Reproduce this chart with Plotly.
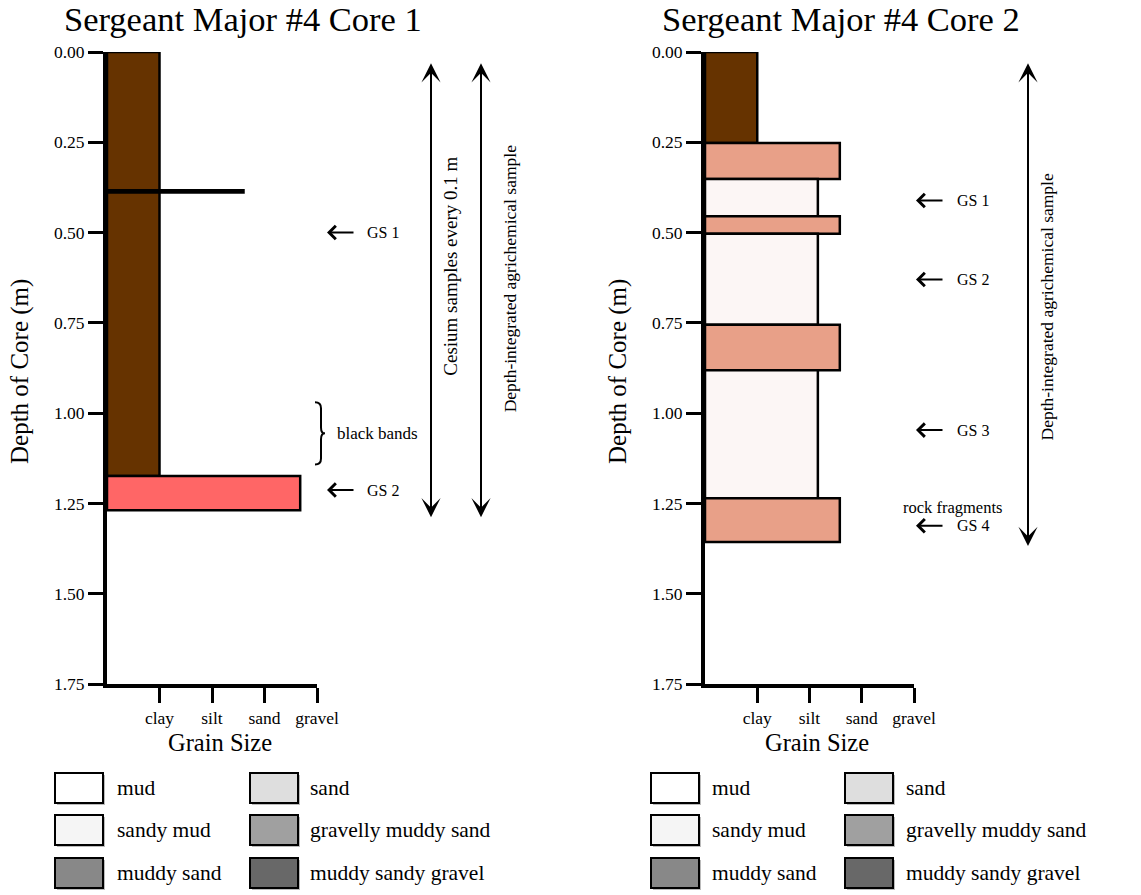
import plotly.graph_objects as go

W, H = 1141, 895

# ---------------- data ----------------
grain_ticks = [1, 2, 3, 4]
grain_labels = ["clay", "silt", "sand", "gravel"]
depth_ticks = [0.0, 0.25, 0.5, 0.75, 1.0, 1.25, 1.5, 1.75]

core1_top = [0.0, 0.383, 1.174]
core1_bottom = [1.174, 0.389, 1.269]
core1_grain = [1.0, 2.6, 3.68]
core1_colors = ["#663300", "#E8A088", "#FF6666"]

core2_top = [0.0, 0.252, 0.352, 0.455, 0.503, 0.755, 0.881, 1.236]
core2_bottom = [0.252, 0.352, 0.455, 0.503, 0.755, 0.881, 1.236, 1.357]
core2_grain = [1.0, 2.58, 2.16, 2.58, 2.16, 2.58, 2.16, 2.58]
core2_colors = ["#663300", "#E8A088", "#FCF6F5", "#E8A088",
                "#FCF6F5", "#E8A088", "#FCF6F5", "#E8A088"]

core1_gs_labels = ["GS 1", "GS 2"]
core1_gs_depths = [0.50, 1.213]
core2_gs_labels = ["GS 1", "GS 2", "GS 3", "GS 4"]
core2_gs_depths = [0.411, 0.630, 1.047, 1.312]

core1_cesium_range = [0.027, 1.288]
core1_agri_range = [0.027, 1.288]
core2_agri_range = [0.027, 1.368]
black_bands_range = [0.970, 1.142]
rock_fragments_depth = 1.262

legend_labels = ["mud", "sandy mud", "muddy sand",
                 "sand", "gravelly muddy sand", "muddy sandy gravel"]
legend_colors = ["#FFFFFF", "#F5F5F5", "#888888",
                 "#DEDEDE", "#A0A0A0", "#686868"]

titles = ["Sergeant Major #4 Core 1", "Sergeant Major #4 Core 2"]

FONT = "Liberation Serif, Times New Roman, serif"


def px(x):
    return x / W


def py(y):
    return 1 - y / H


fig = go.Figure()

cores = [
    (core1_top, core1_bottom, core1_grain, core1_colors, "x", "y"),
    (core2_top, core2_bottom, core2_grain, core2_colors, "x2", "y2"),
]
for top, bot, grain, cols, xa, ya in cores:
    centers = [(t + b) / 2 for t, b in zip(top, bot)]
    widths = [b - t for t, b in zip(top, bot)]
    fig.add_trace(go.Bar(
        orientation="h", y=centers, x=grain, width=widths, base=0,
        marker=dict(color=cols, line=dict(color="black", width=2.5)),
        xaxis=xa, yaxis=ya, showlegend=False, hoverinfo="skip",
    ))

y_dom = [py(684), py(52)]
axis_common = dict(
    showgrid=False, zeroline=False, showline=True, linecolor="black",
    linewidth=4, ticks="outside", tickwidth=3, ticklen=15, tickcolor="black",
    tickfont=dict(family=FONT, size=17.5, color="black"), fixedrange=True,
    automargin=False,
)
fig.update_layout(
    xaxis=dict(domain=[px(107), px(317)], range=[0, 4], anchor="y",
               tickvals=grain_ticks, ticktext=grain_labels, **axis_common),
    yaxis=dict(domain=y_dom, range=[1.75, 0], anchor="x",
               tickvals=depth_ticks, tickformat=".2f", **axis_common),
    xaxis2=dict(domain=[px(705), px(914)], range=[0, 4], anchor="y2",
                tickvals=grain_ticks, ticktext=grain_labels, **axis_common),
    yaxis2=dict(domain=y_dom, range=[1.75, 0], anchor="x2",
                tickvals=depth_ticks, tickformat=".2f", **axis_common),
)

ann = []
shapes = []


def txt(x, y, text, size, yref="paper", angle=0, xanchor="center"):
    ann.append(dict(x=x, y=y, xref="paper", yref=yref, text=text,
                    showarrow=False, textangle=angle, xanchor=xanchor,
                    yanchor="middle",
                    font=dict(family=FONT, size=size, color="black")))


def gs_arrow(x_tip, depth, yref):
    ann.append(dict(x=px(x_tip), y=depth, xref="paper", yref=yref, text="",
                    showarrow=True, axref="pixel", ayref="pixel", ax=28, ay=0,
                    arrowhead=4, arrowsize=1.3, arrowwidth=2,
                    arrowcolor="black", standoff=0))


def vert_arrow(x, rng, yref):
    ann.append(dict(x=px(x), y=rng[1], xref="paper", yref=yref, text="",
                    showarrow=True, axref="pixel", ax=0, ayref=yref,
                    ay=rng[0], arrowhead=3, startarrowhead=3,
                    arrowside="end+start", arrowsize=1.6, startarrowsize=1.6,
                    arrowwidth=2, arrowcolor="black", standoff=0,
                    startstandoff=0))


# titles & axis titles
for cx, title in zip([243, 841], titles):
    txt(px(cx), py(19), title, 34.5)
txt(px(20), py(372), "Depth of Core (m)", 25, angle=-90)
txt(px(618), py(372), "Depth of Core (m)", 25, angle=-90)
txt(px(220), py(742), "Grain Size", 24.5)
txt(px(817), py(742), "Grain Size", 24.5)

# core 1 annotations
for lab, d in zip(core1_gs_labels, core1_gs_depths):
    gs_arrow(327, d, "y")
    txt(px(365), d, lab, 16, yref="y", xanchor="left")
vert_arrow(431, core1_cesium_range, "y")
vert_arrow(481, core1_agri_range, "y")
txt(px(451), sum(core1_cesium_range) / 2 - 0.063,
    "Cesium samples every 0.1 m", 19, yref="y", angle=-90)
txt(px(510), sum(core1_agri_range) / 2 - 0.028,
    "Depth-integrated agrichemical sample", 17.5, yref="y", angle=-90)

# brace for black bands
b0, b1 = black_bands_range
bm = (b0 + b1) / 2
c = 6 / 361.9
x0, x1, xm = px(315), px(321), px(325)
path = (f"M {x0},{b0} Q {x1},{b0} {x1},{b0 + c} L {x1},{bm - c} "
        f"Q {x1},{bm} {xm},{bm} Q {x1},{bm} {x1},{bm + c} "
        f"L {x1},{b1 - c} Q {x1},{b1} {x0},{b1}")
shapes.append(dict(type="path", path=path, xref="paper", yref="y",
                   line=dict(color="black", width=2)))
txt(px(335), bm, "black bands", 17, yref="y", xanchor="left")

# core 2 annotations
for lab, d in zip(core2_gs_labels, core2_gs_depths):
    gs_arrow(916, d, "y2")
    txt(px(955), d, lab, 16, yref="y2", xanchor="left")
txt(px(952), rock_fragments_depth, "rock fragments", 16.5, yref="y2")
vert_arrow(1028, core2_agri_range, "y2")
txt(px(1047), sum(core2_agri_range) / 2 + 0.01,
    "Depth-integrated agrichemical sample", 17.5, yref="y2", angle=-90)

# legends
row_y = [788, 830, 873]
for bx1, bx2, lx1, lx2 in [(55, 250, 115, 308), (651, 845, 710, 904)]:
    for i, (lab, col) in enumerate(zip(legend_labels, legend_colors)):
        r = i % 3
        bx = bx1 if i < 3 else bx2
        lx = lx1 if i < 3 else lx2
        yc = row_y[r]
        shapes.append(dict(type="rect", xref="paper", yref="paper",
                           x0=px(bx + 2), x1=px(bx + 50), y0=py(yc + 17),
                           y1=py(yc - 13), fillcolor="#BBBBBB",
                           line=dict(width=0)))
        shapes.append(dict(type="rect", xref="paper", yref="paper",
                           x0=px(bx), x1=px(bx + 48), y0=py(yc + 15),
                           y1=py(yc - 15), fillcolor=col,
                           line=dict(color="black", width=2)))
        txt(px(lx), py(yc), lab, 21.5, xanchor="left")

fig.update_layout(
    width=W, height=H,
    margin=dict(l=0, r=0, t=0, b=0, pad=0, autoexpand=False),
    paper_bgcolor="white", plot_bgcolor="white",
    annotations=ann, shapes=shapes, showlegend=False,
    font=dict(family=FONT, color="black"),
)

fig.write_html(
    "out.html",
    config={"displayModeBar": False},
    post_script="document.body.style.margin='0';"
                "document.body.style.overflow='hidden';",
)
